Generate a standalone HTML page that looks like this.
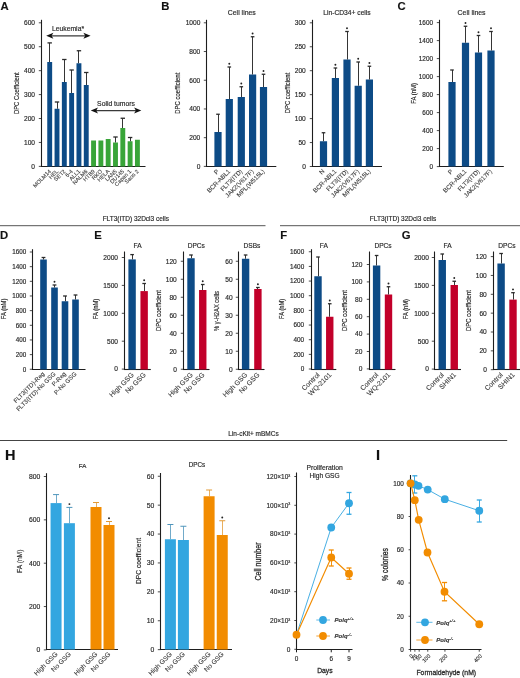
<!DOCTYPE html>
<html><head><meta charset="utf-8"><title>Figure</title>
<style>
html,body{margin:0;padding:0;background:#fff;}
body{width:520px;height:678px;overflow:hidden;}
svg{display:block;will-change:transform;filter:blur(0.3px);font-family:"Liberation Sans",sans-serif;}
text{stroke:#2a2a2a;stroke-width:0.17px;}
text.xl{stroke:#3c3c3c;stroke-width:0.1px;}
text.big{stroke-width:0.3px;}
</style></head>
<body>
<svg width="520" height="678" viewBox="0 0 520 678">
<rect width="520" height="678" fill="#fff"/>
<text x="0.4" y="9.8" font-size="11.3" font-weight="bold" fill="#111">A</text>
<line x1="41.5" y1="19.8" x2="41.5" y2="167.0" stroke="#1e1e1e" stroke-width="1.1"/>
<line x1="40.95" y1="166.5" x2="145.5" y2="166.5" stroke="#1e1e1e" stroke-width="1.1"/>
<line x1="38.8" y1="22.80" x2="41.5" y2="22.80" stroke="#1e1e1e" stroke-width="0.8"/>
<text x="35.00" y="25.16" font-size="6.6" text-anchor="end" fill="#2a2a2a" font-weight="normal" >600</text>
<line x1="38.8" y1="46.73" x2="41.5" y2="46.73" stroke="#1e1e1e" stroke-width="0.8"/>
<text x="35.00" y="49.09" font-size="6.6" text-anchor="end" fill="#2a2a2a" font-weight="normal" >500</text>
<line x1="38.8" y1="70.66" x2="41.5" y2="70.66" stroke="#1e1e1e" stroke-width="0.8"/>
<text x="35.00" y="73.02" font-size="6.6" text-anchor="end" fill="#2a2a2a" font-weight="normal" >400</text>
<line x1="38.8" y1="94.59" x2="41.5" y2="94.59" stroke="#1e1e1e" stroke-width="0.8"/>
<text x="35.00" y="96.95" font-size="6.6" text-anchor="end" fill="#2a2a2a" font-weight="normal" >300</text>
<line x1="38.8" y1="118.52" x2="41.5" y2="118.52" stroke="#1e1e1e" stroke-width="0.8"/>
<text x="35.00" y="120.88" font-size="6.6" text-anchor="end" fill="#2a2a2a" font-weight="normal" >200</text>
<line x1="38.8" y1="142.45" x2="41.5" y2="142.45" stroke="#1e1e1e" stroke-width="0.8"/>
<text x="35.00" y="144.81" font-size="6.6" text-anchor="end" fill="#2a2a2a" font-weight="normal" >100</text>
<line x1="38.8" y1="166.38" x2="41.5" y2="166.38" stroke="#1e1e1e" stroke-width="0.8"/>
<text x="35.00" y="168.74" font-size="6.6" text-anchor="end" fill="#2a2a2a" font-weight="normal" >0</text>
<rect x="47.25" y="62.00" width="4.90" height="104.50" fill="#0d4b86"/>
<line x1="49.50" y1="62.00" x2="49.50" y2="42.90" stroke="#2a2a2a" stroke-width="0.95"/>
<line x1="47.50" y1="42.90" x2="51.90" y2="42.90" stroke="#2a2a2a" stroke-width="1.3"/>
<rect x="54.56" y="108.75" width="4.90" height="57.75" fill="#0d4b86"/>
<line x1="57.50" y1="108.75" x2="57.50" y2="102.00" stroke="#2a2a2a" stroke-width="0.95"/>
<line x1="54.81" y1="102.00" x2="59.21" y2="102.00" stroke="#2a2a2a" stroke-width="1.3"/>
<rect x="61.87" y="82.00" width="4.90" height="84.50" fill="#0d4b86"/>
<line x1="64.50" y1="82.00" x2="64.50" y2="59.50" stroke="#2a2a2a" stroke-width="0.95"/>
<line x1="62.12" y1="59.50" x2="66.52" y2="59.50" stroke="#2a2a2a" stroke-width="1.3"/>
<rect x="69.18" y="93.00" width="4.90" height="73.50" fill="#0d4b86"/>
<line x1="71.50" y1="93.00" x2="71.50" y2="70.00" stroke="#2a2a2a" stroke-width="0.95"/>
<line x1="69.43" y1="70.00" x2="73.83" y2="70.00" stroke="#2a2a2a" stroke-width="1.3"/>
<rect x="76.49" y="63.25" width="4.90" height="103.25" fill="#0d4b86"/>
<line x1="78.50" y1="63.25" x2="78.50" y2="50.75" stroke="#2a2a2a" stroke-width="0.95"/>
<line x1="76.74" y1="50.75" x2="81.14" y2="50.75" stroke="#2a2a2a" stroke-width="1.3"/>
<rect x="83.80" y="85.00" width="4.90" height="81.50" fill="#0d4b86"/>
<line x1="86.50" y1="85.00" x2="86.50" y2="72.50" stroke="#2a2a2a" stroke-width="0.95"/>
<line x1="84.05" y1="72.50" x2="88.45" y2="72.50" stroke="#2a2a2a" stroke-width="1.3"/>
<rect x="91.11" y="140.50" width="4.90" height="26.00" fill="#39a539"/>
<rect x="98.42" y="140.50" width="4.90" height="26.00" fill="#39a539"/>
<rect x="105.73" y="139.00" width="4.90" height="27.50" fill="#39a539"/>
<rect x="113.04" y="142.50" width="4.90" height="24.00" fill="#39a539"/>
<line x1="115.50" y1="142.50" x2="115.50" y2="137.00" stroke="#2a2a2a" stroke-width="0.95"/>
<line x1="113.29" y1="137.00" x2="117.69" y2="137.00" stroke="#2a2a2a" stroke-width="1.3"/>
<rect x="120.35" y="128.00" width="4.90" height="38.50" fill="#39a539"/>
<line x1="122.50" y1="128.00" x2="122.50" y2="118.25" stroke="#2a2a2a" stroke-width="0.95"/>
<line x1="120.60" y1="118.25" x2="125.00" y2="118.25" stroke="#2a2a2a" stroke-width="1.3"/>
<rect x="127.66" y="141.25" width="4.90" height="25.25" fill="#39a539"/>
<line x1="130.50" y1="141.25" x2="130.50" y2="137.50" stroke="#2a2a2a" stroke-width="0.95"/>
<line x1="127.91" y1="137.50" x2="132.31" y2="137.50" stroke="#2a2a2a" stroke-width="1.3"/>
<rect x="134.97" y="139.75" width="4.90" height="26.75" fill="#39a539"/>
<text class="xl" transform="translate(51.40,171.70) rotate(-45)" x="0" y="0" font-size="5.6" text-anchor="end" fill="#3c3c3c">MOLM14</text>
<text class="xl" transform="translate(58.71,171.70) rotate(-45)" x="0" y="0" font-size="5.6" text-anchor="end" fill="#3c3c3c">HEL</text>
<text class="xl" transform="translate(66.02,171.70) rotate(-45)" x="0" y="0" font-size="5.6" text-anchor="end" fill="#3c3c3c">SET2</text>
<text class="xl" transform="translate(73.33,171.70) rotate(-45)" x="0" y="0" font-size="5.6" text-anchor="end" fill="#3c3c3c">6-4</text>
<text class="xl" transform="translate(80.64,171.70) rotate(-45)" x="0" y="0" font-size="5.6" text-anchor="end" fill="#3c3c3c">ALL1</text>
<text class="xl" transform="translate(87.95,171.70) rotate(-45)" x="0" y="0" font-size="5.6" text-anchor="end" fill="#3c3c3c">NALM6</text>
<text class="xl" transform="translate(95.26,171.70) rotate(-45)" x="0" y="0" font-size="5.6" text-anchor="end" fill="#3c3c3c">HTB9</text>
<text class="xl" transform="translate(102.57,171.70) rotate(-45)" x="0" y="0" font-size="5.6" text-anchor="end" fill="#3c3c3c">RKO</text>
<text class="xl" transform="translate(109.88,171.70) rotate(-45)" x="0" y="0" font-size="5.6" text-anchor="end" fill="#3c3c3c">HELA</text>
<text class="xl" transform="translate(117.19,171.70) rotate(-45)" x="0" y="0" font-size="5.6" text-anchor="end" fill="#3c3c3c">LAN5</text>
<text class="xl" transform="translate(124.50,171.70) rotate(-45)" x="0" y="0" font-size="5.6" text-anchor="end" fill="#3c3c3c">DU145</text>
<text class="xl" transform="translate(131.81,171.70) rotate(-45)" x="0" y="0" font-size="5.6" text-anchor="end" fill="#3c3c3c">Capan 1</text>
<text class="xl" transform="translate(139.12,171.70) rotate(-45)" x="0" y="0" font-size="5.6" text-anchor="end" fill="#3c3c3c">Saos 2</text>
<text transform="translate(18.52,93.20) rotate(-90)" x="0" y="0" font-size="7.0" text-anchor="middle" fill="#2a2a2a" textLength="41.8" lengthAdjust="spacingAndGlyphs">DPC Coefficient</text>
<text x="68.00" y="31.30" font-size="6.8" text-anchor="middle" fill="#2a2a2a" font-weight="normal" >Leukemia*</text>
<line x1="51.2" y1="35.8" x2="85.6" y2="35.8" stroke="#3a3a3a" stroke-width="1.15"/>
<path d="M46.2,35.8 L53.400000000000006,32.8 L51.6,35.8 L53.400000000000006,38.8 Z" fill="#111"/>
<path d="M90.6,35.8 L83.39999999999999,32.8 L85.19999999999999,35.8 L83.39999999999999,38.8 Z" fill="#111"/>
<text x="116.00" y="106.00" font-size="6.8" text-anchor="middle" fill="#2a2a2a" font-weight="normal" >Solid tumors</text>
<line x1="95.8" y1="110.6" x2="136.3" y2="110.6" stroke="#3a3a3a" stroke-width="1.15"/>
<path d="M90.8,110.6 L98.0,107.6 L96.2,110.6 L98.0,113.6 Z" fill="#111"/>
<path d="M141.3,110.6 L134.10000000000002,107.6 L135.9,110.6 L134.10000000000002,113.6 Z" fill="#111"/>
<text x="161.3" y="10" font-size="11.3" font-weight="bold" fill="#111">B</text>
<line x1="206.5" y1="19.8" x2="206.5" y2="167.0" stroke="#1e1e1e" stroke-width="1.1"/>
<line x1="205.95" y1="166.5" x2="276.3" y2="166.5" stroke="#1e1e1e" stroke-width="1.1"/>
<line x1="203.8" y1="22.80" x2="206.5" y2="22.80" stroke="#1e1e1e" stroke-width="0.8"/>
<text x="200.30" y="25.16" font-size="6.6" text-anchor="end" fill="#2a2a2a" font-weight="normal" >1000</text>
<line x1="203.8" y1="51.52" x2="206.5" y2="51.52" stroke="#1e1e1e" stroke-width="0.8"/>
<text x="200.30" y="53.88" font-size="6.6" text-anchor="end" fill="#2a2a2a" font-weight="normal" >800</text>
<line x1="203.8" y1="80.24" x2="206.5" y2="80.24" stroke="#1e1e1e" stroke-width="0.8"/>
<text x="200.30" y="82.60" font-size="6.6" text-anchor="end" fill="#2a2a2a" font-weight="normal" >600</text>
<line x1="203.8" y1="108.96" x2="206.5" y2="108.96" stroke="#1e1e1e" stroke-width="0.8"/>
<text x="200.30" y="111.32" font-size="6.6" text-anchor="end" fill="#2a2a2a" font-weight="normal" >400</text>
<line x1="203.8" y1="137.68" x2="206.5" y2="137.68" stroke="#1e1e1e" stroke-width="0.8"/>
<text x="200.30" y="140.04" font-size="6.6" text-anchor="end" fill="#2a2a2a" font-weight="normal" >200</text>
<line x1="203.8" y1="166.40" x2="206.5" y2="166.40" stroke="#1e1e1e" stroke-width="0.8"/>
<text x="200.30" y="168.76" font-size="6.6" text-anchor="end" fill="#2a2a2a" font-weight="normal" >0</text>
<rect x="214.40" y="132.00" width="7.20" height="34.50" fill="#0d4b86"/>
<line x1="218.50" y1="132.00" x2="218.50" y2="114.25" stroke="#2a2a2a" stroke-width="0.95"/>
<line x1="216.20" y1="114.25" x2="219.80" y2="114.25" stroke="#2a2a2a" stroke-width="1.3"/>
<rect x="225.70" y="99.00" width="7.20" height="67.50" fill="#0d4b86"/>
<line x1="229.50" y1="99.00" x2="229.50" y2="67.00" stroke="#2a2a2a" stroke-width="0.95"/>
<line x1="227.50" y1="67.00" x2="231.10" y2="67.00" stroke="#2a2a2a" stroke-width="1.3"/>
<circle cx="229.30" cy="63.70" r="0.95" fill="#222"/>
<rect x="237.70" y="97.00" width="7.20" height="69.50" fill="#0d4b86"/>
<line x1="241.50" y1="97.00" x2="241.50" y2="86.75" stroke="#2a2a2a" stroke-width="0.95"/>
<line x1="239.50" y1="86.75" x2="243.10" y2="86.75" stroke="#2a2a2a" stroke-width="1.3"/>
<circle cx="241.30" cy="83.45" r="0.95" fill="#222"/>
<rect x="249.00" y="74.50" width="7.20" height="92.00" fill="#0d4b86"/>
<line x1="252.50" y1="74.50" x2="252.50" y2="36.75" stroke="#2a2a2a" stroke-width="0.95"/>
<line x1="250.80" y1="36.75" x2="254.40" y2="36.75" stroke="#2a2a2a" stroke-width="1.3"/>
<circle cx="252.60" cy="33.45" r="0.95" fill="#222"/>
<rect x="259.90" y="87.00" width="7.20" height="79.50" fill="#0d4b86"/>
<line x1="263.50" y1="87.00" x2="263.50" y2="74.25" stroke="#2a2a2a" stroke-width="0.95"/>
<line x1="261.70" y1="74.25" x2="265.30" y2="74.25" stroke="#2a2a2a" stroke-width="1.3"/>
<circle cx="263.50" cy="70.95" r="0.95" fill="#222"/>
<text class="xl" transform="translate(219.50,171.70) rotate(-45)" x="0" y="0" font-size="6.2" text-anchor="end" fill="#3c3c3c">P</text>
<text class="xl" transform="translate(230.80,171.70) rotate(-45)" x="0" y="0" font-size="6.2" text-anchor="end" fill="#3c3c3c">BCR-ABL1</text>
<text class="xl" transform="translate(242.80,171.70) rotate(-45)" x="0" y="0" font-size="6.2" text-anchor="end" fill="#3c3c3c">FLT3(ITD)</text>
<text class="xl" transform="translate(254.10,171.70) rotate(-45)" x="0" y="0" font-size="6.2" text-anchor="end" fill="#3c3c3c">JAK2(V617F)</text>
<text class="xl" transform="translate(265.00,171.70) rotate(-45)" x="0" y="0" font-size="6.2" text-anchor="end" fill="#3c3c3c">MPL(W515L)</text>
<text transform="translate(180.12,93.20) rotate(-90)" x="0" y="0" font-size="7.0" text-anchor="middle" fill="#2a2a2a" textLength="41" lengthAdjust="spacingAndGlyphs">DPC coefficient</text>
<text x="241.80" y="15.40" font-size="6.9" text-anchor="middle" fill="#2a2a2a" font-weight="normal" >Cell lines</text>
<line x1="312.5" y1="19.8" x2="312.5" y2="167.0" stroke="#1e1e1e" stroke-width="1.1"/>
<line x1="311.95" y1="166.5" x2="382" y2="166.5" stroke="#1e1e1e" stroke-width="1.1"/>
<line x1="309.8" y1="22.80" x2="312.5" y2="22.80" stroke="#1e1e1e" stroke-width="0.8"/>
<text x="305.80" y="25.16" font-size="6.6" text-anchor="end" fill="#2a2a2a" font-weight="normal" >300</text>
<line x1="309.8" y1="46.75" x2="312.5" y2="46.75" stroke="#1e1e1e" stroke-width="0.8"/>
<text x="305.80" y="49.11" font-size="6.6" text-anchor="end" fill="#2a2a2a" font-weight="normal" >250</text>
<line x1="309.8" y1="70.70" x2="312.5" y2="70.70" stroke="#1e1e1e" stroke-width="0.8"/>
<text x="305.80" y="73.06" font-size="6.6" text-anchor="end" fill="#2a2a2a" font-weight="normal" >200</text>
<line x1="309.8" y1="94.65" x2="312.5" y2="94.65" stroke="#1e1e1e" stroke-width="0.8"/>
<text x="305.80" y="97.01" font-size="6.6" text-anchor="end" fill="#2a2a2a" font-weight="normal" >150</text>
<line x1="309.8" y1="118.60" x2="312.5" y2="118.60" stroke="#1e1e1e" stroke-width="0.8"/>
<text x="305.80" y="120.96" font-size="6.6" text-anchor="end" fill="#2a2a2a" font-weight="normal" >100</text>
<line x1="309.8" y1="142.55" x2="312.5" y2="142.55" stroke="#1e1e1e" stroke-width="0.8"/>
<text x="305.80" y="144.91" font-size="6.6" text-anchor="end" fill="#2a2a2a" font-weight="normal" >50</text>
<line x1="309.8" y1="166.50" x2="312.5" y2="166.50" stroke="#1e1e1e" stroke-width="0.8"/>
<text x="305.80" y="168.86" font-size="6.6" text-anchor="end" fill="#2a2a2a" font-weight="normal" >0</text>
<rect x="319.90" y="141.25" width="7.20" height="25.25" fill="#0d4b86"/>
<line x1="323.50" y1="141.25" x2="323.50" y2="132.75" stroke="#2a2a2a" stroke-width="0.95"/>
<line x1="321.70" y1="132.75" x2="325.30" y2="132.75" stroke="#2a2a2a" stroke-width="1.3"/>
<rect x="331.80" y="78.00" width="7.20" height="88.50" fill="#0d4b86"/>
<line x1="335.50" y1="78.00" x2="335.50" y2="68.00" stroke="#2a2a2a" stroke-width="0.95"/>
<line x1="333.60" y1="68.00" x2="337.20" y2="68.00" stroke="#2a2a2a" stroke-width="1.3"/>
<circle cx="335.40" cy="64.70" r="0.95" fill="#222"/>
<rect x="343.40" y="59.50" width="7.20" height="107.00" fill="#0d4b86"/>
<line x1="347.50" y1="59.50" x2="347.50" y2="31.50" stroke="#2a2a2a" stroke-width="0.95"/>
<line x1="345.20" y1="31.50" x2="348.80" y2="31.50" stroke="#2a2a2a" stroke-width="1.3"/>
<circle cx="347.00" cy="28.20" r="0.95" fill="#222"/>
<rect x="354.60" y="85.75" width="7.20" height="80.75" fill="#0d4b86"/>
<line x1="358.50" y1="85.75" x2="358.50" y2="62.00" stroke="#2a2a2a" stroke-width="0.95"/>
<line x1="356.40" y1="62.00" x2="360.00" y2="62.00" stroke="#2a2a2a" stroke-width="1.3"/>
<circle cx="358.20" cy="58.70" r="0.95" fill="#222"/>
<rect x="365.80" y="79.50" width="7.20" height="87.00" fill="#0d4b86"/>
<line x1="369.50" y1="79.50" x2="369.50" y2="66.25" stroke="#2a2a2a" stroke-width="0.95"/>
<line x1="367.60" y1="66.25" x2="371.20" y2="66.25" stroke="#2a2a2a" stroke-width="1.3"/>
<circle cx="369.40" cy="62.95" r="0.95" fill="#222"/>
<text class="xl" transform="translate(325.00,171.70) rotate(-45)" x="0" y="0" font-size="6.2" text-anchor="end" fill="#3c3c3c">N</text>
<text class="xl" transform="translate(336.90,171.70) rotate(-45)" x="0" y="0" font-size="6.2" text-anchor="end" fill="#3c3c3c">BCR-ABL1</text>
<text class="xl" transform="translate(348.50,171.70) rotate(-45)" x="0" y="0" font-size="6.2" text-anchor="end" fill="#3c3c3c">FLT3(ITD)</text>
<text class="xl" transform="translate(359.70,171.70) rotate(-45)" x="0" y="0" font-size="6.2" text-anchor="end" fill="#3c3c3c">JAK2(V617F)</text>
<text class="xl" transform="translate(370.90,171.70) rotate(-45)" x="0" y="0" font-size="6.2" text-anchor="end" fill="#3c3c3c">MPL(W515L)</text>
<text transform="translate(290.02,93.00) rotate(-90)" x="0" y="0" font-size="7.0" text-anchor="middle" fill="#2a2a2a" textLength="40.6" lengthAdjust="spacingAndGlyphs">DPC coefficient</text>
<text x="347.00" y="15.20" font-size="6.7" text-anchor="middle" fill="#2a2a2a" font-weight="normal" >Lin-CD34+ cells</text>
<text x="397.5" y="10" font-size="11.3" font-weight="bold" fill="#111">C</text>
<line x1="439.5" y1="19.8" x2="439.5" y2="167.0" stroke="#1e1e1e" stroke-width="1.1"/>
<line x1="438.95" y1="166.5" x2="503.8" y2="166.5" stroke="#1e1e1e" stroke-width="1.1"/>
<line x1="436.8" y1="22.60" x2="439.5" y2="22.60" stroke="#1e1e1e" stroke-width="0.8"/>
<text x="433.00" y="24.89" font-size="6.4" text-anchor="end" fill="#2a2a2a" font-weight="normal" >1600</text>
<line x1="436.8" y1="40.60" x2="439.5" y2="40.60" stroke="#1e1e1e" stroke-width="0.8"/>
<text x="433.00" y="42.89" font-size="6.4" text-anchor="end" fill="#2a2a2a" font-weight="normal" >1400</text>
<line x1="436.8" y1="58.60" x2="439.5" y2="58.60" stroke="#1e1e1e" stroke-width="0.8"/>
<text x="433.00" y="60.89" font-size="6.4" text-anchor="end" fill="#2a2a2a" font-weight="normal" >1200</text>
<line x1="436.8" y1="76.60" x2="439.5" y2="76.60" stroke="#1e1e1e" stroke-width="0.8"/>
<text x="433.00" y="78.89" font-size="6.4" text-anchor="end" fill="#2a2a2a" font-weight="normal" >1000</text>
<line x1="436.8" y1="94.60" x2="439.5" y2="94.60" stroke="#1e1e1e" stroke-width="0.8"/>
<text x="433.00" y="96.89" font-size="6.4" text-anchor="end" fill="#2a2a2a" font-weight="normal" >800</text>
<line x1="436.8" y1="112.60" x2="439.5" y2="112.60" stroke="#1e1e1e" stroke-width="0.8"/>
<text x="433.00" y="114.89" font-size="6.4" text-anchor="end" fill="#2a2a2a" font-weight="normal" >600</text>
<line x1="436.8" y1="130.60" x2="439.5" y2="130.60" stroke="#1e1e1e" stroke-width="0.8"/>
<text x="433.00" y="132.89" font-size="6.4" text-anchor="end" fill="#2a2a2a" font-weight="normal" >400</text>
<line x1="436.8" y1="148.60" x2="439.5" y2="148.60" stroke="#1e1e1e" stroke-width="0.8"/>
<text x="433.00" y="150.89" font-size="6.4" text-anchor="end" fill="#2a2a2a" font-weight="normal" >200</text>
<line x1="436.8" y1="166.60" x2="439.5" y2="166.60" stroke="#1e1e1e" stroke-width="0.8"/>
<text x="433.00" y="168.89" font-size="6.4" text-anchor="end" fill="#2a2a2a" font-weight="normal" >0</text>
<rect x="448.40" y="82.00" width="7.20" height="84.50" fill="#0d4b86"/>
<line x1="452.50" y1="82.00" x2="452.50" y2="70.00" stroke="#2a2a2a" stroke-width="0.95"/>
<line x1="450.20" y1="70.00" x2="453.80" y2="70.00" stroke="#2a2a2a" stroke-width="1.3"/>
<rect x="461.90" y="42.75" width="7.20" height="123.75" fill="#0d4b86"/>
<line x1="465.50" y1="42.75" x2="465.50" y2="26.25" stroke="#2a2a2a" stroke-width="0.95"/>
<line x1="463.70" y1="26.25" x2="467.30" y2="26.25" stroke="#2a2a2a" stroke-width="1.3"/>
<circle cx="465.50" cy="22.95" r="0.95" fill="#222"/>
<rect x="474.90" y="52.50" width="7.20" height="114.00" fill="#0d4b86"/>
<line x1="478.50" y1="52.50" x2="478.50" y2="35.50" stroke="#2a2a2a" stroke-width="0.95"/>
<line x1="476.70" y1="35.50" x2="480.30" y2="35.50" stroke="#2a2a2a" stroke-width="1.3"/>
<circle cx="478.50" cy="32.20" r="0.95" fill="#222"/>
<rect x="487.40" y="50.50" width="7.20" height="116.00" fill="#0d4b86"/>
<line x1="491.50" y1="50.50" x2="491.50" y2="31.50" stroke="#2a2a2a" stroke-width="0.95"/>
<line x1="489.20" y1="31.50" x2="492.80" y2="31.50" stroke="#2a2a2a" stroke-width="1.3"/>
<circle cx="491.00" cy="28.20" r="0.95" fill="#222"/>
<text class="xl" transform="translate(453.50,171.70) rotate(-45)" x="0" y="0" font-size="6.2" text-anchor="end" fill="#3c3c3c">P</text>
<text class="xl" transform="translate(467.00,171.70) rotate(-45)" x="0" y="0" font-size="6.2" text-anchor="end" fill="#3c3c3c">BCR-ABL1</text>
<text class="xl" transform="translate(480.00,171.70) rotate(-45)" x="0" y="0" font-size="6.2" text-anchor="end" fill="#3c3c3c">FLT3(ITD)</text>
<text class="xl" transform="translate(492.50,171.70) rotate(-45)" x="0" y="0" font-size="6.2" text-anchor="end" fill="#3c3c3c">JAK2(V617F)</text>
<text transform="translate(416.42,93.50) rotate(-90)" x="0" y="0" font-size="7.0" text-anchor="middle" fill="#2a2a2a" textLength="20.7" lengthAdjust="spacingAndGlyphs">FA (nM)</text>
<text x="471.60" y="15.40" font-size="6.9" text-anchor="middle" fill="#2a2a2a" font-weight="normal" >Cell lines</text>
<line x1="0" y1="225.7" x2="265.5" y2="225.7" stroke="#555" stroke-width="1"/>
<line x1="280" y1="225.7" x2="520" y2="225.7" stroke="#555" stroke-width="1"/>
<text x="135.80" y="220.90" font-size="6.5" text-anchor="middle" fill="#2a2a2a" font-weight="normal" >FLT3(ITD) 32Dcl3 cells</text>
<text x="403.00" y="220.90" font-size="6.5" text-anchor="middle" fill="#2a2a2a" font-weight="normal" >FLT3(ITD) 32Dcl3 cells</text>
<line x1="0" y1="440.5" x2="507.2" y2="440.5" stroke="#444" stroke-width="1"/>
<text x="253.50" y="436.00" font-size="6.5" text-anchor="middle" fill="#2a2a2a" font-weight="normal" >Lin-cKit+ mBMCs</text>
<text x="0" y="239.2" font-size="11.3" font-weight="bold" fill="#111">D</text>
<line x1="32.5" y1="249.2" x2="32.5" y2="370.0" stroke="#1e1e1e" stroke-width="1.1"/>
<line x1="31.95" y1="369.5" x2="85.5" y2="369.5" stroke="#1e1e1e" stroke-width="1.1"/>
<line x1="29.8" y1="252.00" x2="32.5" y2="252.00" stroke="#1e1e1e" stroke-width="0.8"/>
<text x="26.20" y="254.26" font-size="6.3" text-anchor="end" fill="#2a2a2a" font-weight="normal" >1600</text>
<line x1="29.8" y1="266.66" x2="32.5" y2="266.66" stroke="#1e1e1e" stroke-width="0.8"/>
<text x="26.20" y="268.92" font-size="6.3" text-anchor="end" fill="#2a2a2a" font-weight="normal" >1400</text>
<line x1="29.8" y1="281.32" x2="32.5" y2="281.32" stroke="#1e1e1e" stroke-width="0.8"/>
<text x="26.20" y="283.58" font-size="6.3" text-anchor="end" fill="#2a2a2a" font-weight="normal" >1200</text>
<line x1="29.8" y1="295.98" x2="32.5" y2="295.98" stroke="#1e1e1e" stroke-width="0.8"/>
<text x="26.20" y="298.24" font-size="6.3" text-anchor="end" fill="#2a2a2a" font-weight="normal" >1000</text>
<line x1="29.8" y1="310.64" x2="32.5" y2="310.64" stroke="#1e1e1e" stroke-width="0.8"/>
<text x="26.20" y="312.90" font-size="6.3" text-anchor="end" fill="#2a2a2a" font-weight="normal" >800</text>
<line x1="29.8" y1="325.30" x2="32.5" y2="325.30" stroke="#1e1e1e" stroke-width="0.8"/>
<text x="26.20" y="327.56" font-size="6.3" text-anchor="end" fill="#2a2a2a" font-weight="normal" >600</text>
<line x1="29.8" y1="339.96" x2="32.5" y2="339.96" stroke="#1e1e1e" stroke-width="0.8"/>
<text x="26.20" y="342.22" font-size="6.3" text-anchor="end" fill="#2a2a2a" font-weight="normal" >400</text>
<line x1="29.8" y1="354.62" x2="32.5" y2="354.62" stroke="#1e1e1e" stroke-width="0.8"/>
<text x="26.20" y="356.88" font-size="6.3" text-anchor="end" fill="#2a2a2a" font-weight="normal" >200</text>
<line x1="29.8" y1="369.28" x2="32.5" y2="369.28" stroke="#1e1e1e" stroke-width="0.8"/>
<text x="26.20" y="371.54" font-size="6.3" text-anchor="end" fill="#2a2a2a" font-weight="normal" >0</text>
<rect x="40.20" y="259.50" width="6.60" height="110.00" fill="#0d4b86"/>
<line x1="43.50" y1="259.50" x2="43.50" y2="257.50" stroke="#2a2a2a" stroke-width="0.95"/>
<line x1="41.60" y1="257.50" x2="45.40" y2="257.50" stroke="#2a2a2a" stroke-width="1.3"/>
<rect x="51.20" y="287.50" width="6.60" height="82.00" fill="#0d4b86"/>
<line x1="54.50" y1="287.50" x2="54.50" y2="285.00" stroke="#2a2a2a" stroke-width="0.95"/>
<line x1="52.60" y1="285.00" x2="56.40" y2="285.00" stroke="#2a2a2a" stroke-width="1.3"/>
<circle cx="54.50" cy="281.70" r="0.95" fill="#222"/>
<rect x="61.70" y="301.25" width="6.60" height="68.25" fill="#0d4b86"/>
<line x1="65.50" y1="301.25" x2="65.50" y2="296.00" stroke="#2a2a2a" stroke-width="0.95"/>
<line x1="63.10" y1="296.00" x2="66.90" y2="296.00" stroke="#2a2a2a" stroke-width="1.3"/>
<rect x="72.20" y="299.50" width="6.60" height="70.00" fill="#0d4b86"/>
<line x1="75.50" y1="299.50" x2="75.50" y2="295.00" stroke="#2a2a2a" stroke-width="0.95"/>
<line x1="73.60" y1="295.00" x2="77.40" y2="295.00" stroke="#2a2a2a" stroke-width="1.3"/>
<text class="xl" transform="translate(45.00,374.30) rotate(-45)" x="0" y="0" font-size="6.1" text-anchor="end" fill="#3c3c3c">FLT3(ITD)-Reg</text>
<text class="xl" transform="translate(56.00,374.30) rotate(-45)" x="0" y="0" font-size="6.1" text-anchor="end" fill="#3c3c3c">FLT3(ITD)-No GSG</text>
<text class="xl" transform="translate(66.50,374.30) rotate(-45)" x="0" y="0" font-size="6.1" text-anchor="end" fill="#3c3c3c">P-Reg</text>
<text class="xl" transform="translate(77.00,374.30) rotate(-45)" x="0" y="0" font-size="6.1" text-anchor="end" fill="#3c3c3c">P-No GSG</text>
<text transform="translate(5.92,308.90) rotate(-90)" x="0" y="0" font-size="7.0" text-anchor="middle" fill="#2a2a2a" textLength="20.6" lengthAdjust="spacingAndGlyphs">FA (nM)</text>
<text x="94.2" y="239.2" font-size="11.3" font-weight="bold" fill="#111">E</text>
<line x1="124.5" y1="251.5" x2="124.5" y2="370.0" stroke="#1e1e1e" stroke-width="1.1"/>
<line x1="123.95" y1="369.5" x2="150.8" y2="369.5" stroke="#1e1e1e" stroke-width="1.1"/>
<line x1="121.8" y1="257.50" x2="124.5" y2="257.50" stroke="#1e1e1e" stroke-width="0.8"/>
<text x="118.00" y="259.86" font-size="6.6" text-anchor="end" fill="#2a2a2a" font-weight="normal" >2000</text>
<line x1="121.8" y1="285.40" x2="124.5" y2="285.40" stroke="#1e1e1e" stroke-width="0.8"/>
<text x="118.00" y="287.76" font-size="6.6" text-anchor="end" fill="#2a2a2a" font-weight="normal" >1500</text>
<line x1="121.8" y1="313.30" x2="124.5" y2="313.30" stroke="#1e1e1e" stroke-width="0.8"/>
<text x="118.00" y="315.66" font-size="6.6" text-anchor="end" fill="#2a2a2a" font-weight="normal" >1000</text>
<line x1="121.8" y1="341.20" x2="124.5" y2="341.20" stroke="#1e1e1e" stroke-width="0.8"/>
<text x="118.00" y="343.56" font-size="6.6" text-anchor="end" fill="#2a2a2a" font-weight="normal" >500</text>
<line x1="121.8" y1="369.10" x2="124.5" y2="369.10" stroke="#1e1e1e" stroke-width="0.8"/>
<text x="118.00" y="371.46" font-size="6.6" text-anchor="end" fill="#2a2a2a" font-weight="normal" >0</text>
<rect x="128.40" y="259.40" width="7.40" height="110.10" fill="#0d4b86"/>
<line x1="132.50" y1="259.40" x2="132.50" y2="254.60" stroke="#2a2a2a" stroke-width="0.95"/>
<line x1="130.30" y1="254.60" x2="133.90" y2="254.60" stroke="#2a2a2a" stroke-width="1.3"/>
<rect x="140.45" y="291.10" width="7.40" height="78.40" fill="#c2002a"/>
<line x1="144.50" y1="291.10" x2="144.50" y2="283.50" stroke="#2a2a2a" stroke-width="0.95"/>
<line x1="142.35" y1="283.50" x2="145.95" y2="283.50" stroke="#2a2a2a" stroke-width="1.3"/>
<circle cx="144.15" cy="280.20" r="0.95" fill="#222"/>
<text class="xl" transform="translate(134.30,375.30) rotate(-45)" x="0" y="0" font-size="6.9" text-anchor="end" fill="#3c3c3c">High GSG</text>
<text class="xl" transform="translate(146.35,375.30) rotate(-45)" x="0" y="0" font-size="6.9" text-anchor="end" fill="#3c3c3c">No GSG</text>
<text transform="translate(98.12,309.00) rotate(-90)" x="0" y="0" font-size="7.0" text-anchor="middle" fill="#2a2a2a" textLength="20.6" lengthAdjust="spacingAndGlyphs">FA (nM)</text>
<text x="137.50" y="247.80" font-size="6.6" text-anchor="middle" fill="#2a2a2a" font-weight="normal" >FA</text>
<line x1="183.5" y1="251.5" x2="183.5" y2="370.0" stroke="#1e1e1e" stroke-width="1.1"/>
<line x1="182.95" y1="369.5" x2="209.5" y2="369.5" stroke="#1e1e1e" stroke-width="1.1"/>
<line x1="180.8" y1="261.25" x2="183.5" y2="261.25" stroke="#1e1e1e" stroke-width="0.8"/>
<text x="176.80" y="263.61" font-size="6.6" text-anchor="end" fill="#2a2a2a" font-weight="normal" >120</text>
<line x1="180.8" y1="279.25" x2="183.5" y2="279.25" stroke="#1e1e1e" stroke-width="0.8"/>
<text x="176.80" y="281.61" font-size="6.6" text-anchor="end" fill="#2a2a2a" font-weight="normal" >100</text>
<line x1="180.8" y1="297.25" x2="183.5" y2="297.25" stroke="#1e1e1e" stroke-width="0.8"/>
<text x="176.80" y="299.61" font-size="6.6" text-anchor="end" fill="#2a2a2a" font-weight="normal" >80</text>
<line x1="180.8" y1="315.25" x2="183.5" y2="315.25" stroke="#1e1e1e" stroke-width="0.8"/>
<text x="176.80" y="317.61" font-size="6.6" text-anchor="end" fill="#2a2a2a" font-weight="normal" >60</text>
<line x1="180.8" y1="333.25" x2="183.5" y2="333.25" stroke="#1e1e1e" stroke-width="0.8"/>
<text x="176.80" y="335.61" font-size="6.6" text-anchor="end" fill="#2a2a2a" font-weight="normal" >40</text>
<line x1="180.8" y1="351.25" x2="183.5" y2="351.25" stroke="#1e1e1e" stroke-width="0.8"/>
<text x="176.80" y="353.61" font-size="6.6" text-anchor="end" fill="#2a2a2a" font-weight="normal" >20</text>
<line x1="180.8" y1="369.25" x2="183.5" y2="369.25" stroke="#1e1e1e" stroke-width="0.8"/>
<text x="176.80" y="371.61" font-size="6.6" text-anchor="end" fill="#2a2a2a" font-weight="normal" >0</text>
<rect x="187.30" y="258.25" width="7.40" height="111.25" fill="#0d4b86"/>
<line x1="191.50" y1="258.25" x2="191.50" y2="255.00" stroke="#2a2a2a" stroke-width="0.95"/>
<line x1="189.20" y1="255.00" x2="192.80" y2="255.00" stroke="#2a2a2a" stroke-width="1.3"/>
<rect x="199.05" y="290.00" width="7.40" height="79.50" fill="#c2002a"/>
<line x1="202.50" y1="290.00" x2="202.50" y2="284.50" stroke="#2a2a2a" stroke-width="0.95"/>
<line x1="200.95" y1="284.50" x2="204.55" y2="284.50" stroke="#2a2a2a" stroke-width="1.3"/>
<circle cx="202.75" cy="281.20" r="0.95" fill="#222"/>
<text class="xl" transform="translate(193.20,375.30) rotate(-45)" x="0" y="0" font-size="6.9" text-anchor="end" fill="#3c3c3c">High GSG</text>
<text class="xl" transform="translate(204.95,375.30) rotate(-45)" x="0" y="0" font-size="6.9" text-anchor="end" fill="#3c3c3c">No GSG</text>
<text transform="translate(161.02,310.60) rotate(-90)" x="0" y="0" font-size="7.0" text-anchor="middle" fill="#2a2a2a" textLength="41" lengthAdjust="spacingAndGlyphs">DPC coefficient</text>
<text x="196.30" y="247.80" font-size="6.6" text-anchor="middle" fill="#2a2a2a" font-weight="normal" >DPCs</text>
<line x1="238.5" y1="251.5" x2="238.5" y2="370.0" stroke="#1e1e1e" stroke-width="1.1"/>
<line x1="237.95" y1="369.5" x2="264.5" y2="369.5" stroke="#1e1e1e" stroke-width="1.1"/>
<line x1="235.8" y1="261.25" x2="238.5" y2="261.25" stroke="#1e1e1e" stroke-width="0.8"/>
<text x="232.60" y="263.61" font-size="6.6" text-anchor="end" fill="#2a2a2a" font-weight="normal" >60</text>
<line x1="235.8" y1="279.25" x2="238.5" y2="279.25" stroke="#1e1e1e" stroke-width="0.8"/>
<text x="232.60" y="281.61" font-size="6.6" text-anchor="end" fill="#2a2a2a" font-weight="normal" >50</text>
<line x1="235.8" y1="297.25" x2="238.5" y2="297.25" stroke="#1e1e1e" stroke-width="0.8"/>
<text x="232.60" y="299.61" font-size="6.6" text-anchor="end" fill="#2a2a2a" font-weight="normal" >40</text>
<line x1="235.8" y1="315.25" x2="238.5" y2="315.25" stroke="#1e1e1e" stroke-width="0.8"/>
<text x="232.60" y="317.61" font-size="6.6" text-anchor="end" fill="#2a2a2a" font-weight="normal" >30</text>
<line x1="235.8" y1="333.25" x2="238.5" y2="333.25" stroke="#1e1e1e" stroke-width="0.8"/>
<text x="232.60" y="335.61" font-size="6.6" text-anchor="end" fill="#2a2a2a" font-weight="normal" >20</text>
<line x1="235.8" y1="351.25" x2="238.5" y2="351.25" stroke="#1e1e1e" stroke-width="0.8"/>
<text x="232.60" y="353.61" font-size="6.6" text-anchor="end" fill="#2a2a2a" font-weight="normal" >10</text>
<line x1="235.8" y1="369.25" x2="238.5" y2="369.25" stroke="#1e1e1e" stroke-width="0.8"/>
<text x="232.60" y="371.61" font-size="6.6" text-anchor="end" fill="#2a2a2a" font-weight="normal" >0</text>
<rect x="241.90" y="258.75" width="7.40" height="110.75" fill="#0d4b86"/>
<line x1="245.50" y1="258.75" x2="245.50" y2="255.00" stroke="#2a2a2a" stroke-width="0.95"/>
<line x1="243.80" y1="255.00" x2="247.40" y2="255.00" stroke="#2a2a2a" stroke-width="1.3"/>
<rect x="254.20" y="289.00" width="7.40" height="80.50" fill="#c2002a"/>
<line x1="257.50" y1="289.00" x2="257.50" y2="287.50" stroke="#2a2a2a" stroke-width="0.95"/>
<line x1="256.10" y1="287.50" x2="259.70" y2="287.50" stroke="#2a2a2a" stroke-width="1.3"/>
<circle cx="257.90" cy="284.20" r="0.95" fill="#222"/>
<text class="xl" transform="translate(247.80,375.30) rotate(-45)" x="0" y="0" font-size="6.9" text-anchor="end" fill="#3c3c3c">High GSG</text>
<text class="xl" transform="translate(260.10,375.30) rotate(-45)" x="0" y="0" font-size="6.9" text-anchor="end" fill="#3c3c3c">No GSG</text>
<text transform="translate(218.62,311.00) rotate(-90)" x="0" y="0" font-size="7.0" text-anchor="middle" fill="#2a2a2a" textLength="39.8" lengthAdjust="spacingAndGlyphs">% &#947;-H2AX cells</text>
<text x="252.00" y="247.80" font-size="6.6" text-anchor="middle" fill="#2a2a2a" font-weight="normal" >DSBs</text>
<text x="280.2" y="239.2" font-size="11.3" font-weight="bold" fill="#111">F</text>
<line x1="311.5" y1="249.2" x2="311.5" y2="370.0" stroke="#1e1e1e" stroke-width="1.1"/>
<line x1="310.95" y1="369.5" x2="336.3" y2="369.5" stroke="#1e1e1e" stroke-width="1.1"/>
<line x1="308.8" y1="251.75" x2="311.5" y2="251.75" stroke="#1e1e1e" stroke-width="0.8"/>
<text x="304.20" y="254.04" font-size="6.4" text-anchor="end" fill="#2a2a2a" font-weight="normal" >1600</text>
<line x1="308.8" y1="266.41" x2="311.5" y2="266.41" stroke="#1e1e1e" stroke-width="0.8"/>
<text x="304.20" y="268.70" font-size="6.4" text-anchor="end" fill="#2a2a2a" font-weight="normal" >1400</text>
<line x1="308.8" y1="281.07" x2="311.5" y2="281.07" stroke="#1e1e1e" stroke-width="0.8"/>
<text x="304.20" y="283.36" font-size="6.4" text-anchor="end" fill="#2a2a2a" font-weight="normal" >1200</text>
<line x1="308.8" y1="295.73" x2="311.5" y2="295.73" stroke="#1e1e1e" stroke-width="0.8"/>
<text x="304.20" y="298.02" font-size="6.4" text-anchor="end" fill="#2a2a2a" font-weight="normal" >1000</text>
<line x1="308.8" y1="310.39" x2="311.5" y2="310.39" stroke="#1e1e1e" stroke-width="0.8"/>
<text x="304.20" y="312.68" font-size="6.4" text-anchor="end" fill="#2a2a2a" font-weight="normal" >800</text>
<line x1="308.8" y1="325.05" x2="311.5" y2="325.05" stroke="#1e1e1e" stroke-width="0.8"/>
<text x="304.20" y="327.34" font-size="6.4" text-anchor="end" fill="#2a2a2a" font-weight="normal" >600</text>
<line x1="308.8" y1="339.71" x2="311.5" y2="339.71" stroke="#1e1e1e" stroke-width="0.8"/>
<text x="304.20" y="342.00" font-size="6.4" text-anchor="end" fill="#2a2a2a" font-weight="normal" >400</text>
<line x1="308.8" y1="354.37" x2="311.5" y2="354.37" stroke="#1e1e1e" stroke-width="0.8"/>
<text x="304.20" y="356.66" font-size="6.4" text-anchor="end" fill="#2a2a2a" font-weight="normal" >200</text>
<line x1="308.8" y1="369.03" x2="311.5" y2="369.03" stroke="#1e1e1e" stroke-width="0.8"/>
<text x="304.20" y="371.32" font-size="6.4" text-anchor="end" fill="#2a2a2a" font-weight="normal" >0</text>
<rect x="314.30" y="276.25" width="7.40" height="93.25" fill="#0d4b86"/>
<line x1="318.50" y1="276.25" x2="318.50" y2="257.00" stroke="#2a2a2a" stroke-width="0.95"/>
<line x1="316.20" y1="257.00" x2="319.80" y2="257.00" stroke="#2a2a2a" stroke-width="1.3"/>
<rect x="326.05" y="316.75" width="7.40" height="52.75" fill="#c2002a"/>
<line x1="329.50" y1="316.75" x2="329.50" y2="303.75" stroke="#2a2a2a" stroke-width="0.95"/>
<line x1="327.95" y1="303.75" x2="331.55" y2="303.75" stroke="#2a2a2a" stroke-width="1.3"/>
<circle cx="329.75" cy="300.45" r="0.95" fill="#222"/>
<text class="xl" transform="translate(320.20,375.30) rotate(-45)" x="0" y="0" font-size="6.9" text-anchor="end" fill="#3c3c3c">Control</text>
<text class="xl" transform="translate(331.95,375.30) rotate(-45)" x="0" y="0" font-size="6.9" text-anchor="end" fill="#3c3c3c">WQ-2101</text>
<text transform="translate(283.72,308.80) rotate(-90)" x="0" y="0" font-size="7.0" text-anchor="middle" fill="#2a2a2a" textLength="20.2" lengthAdjust="spacingAndGlyphs">FA (nM)</text>
<text x="323.80" y="247.80" font-size="6.6" text-anchor="middle" fill="#2a2a2a" font-weight="normal" >FA</text>
<line x1="369.5" y1="251.5" x2="369.5" y2="370.0" stroke="#1e1e1e" stroke-width="1.1"/>
<line x1="368.95" y1="369.5" x2="395.5" y2="369.5" stroke="#1e1e1e" stroke-width="1.1"/>
<line x1="366.8" y1="264.50" x2="369.5" y2="264.50" stroke="#1e1e1e" stroke-width="0.8"/>
<text x="362.40" y="266.86" font-size="6.6" text-anchor="end" fill="#2a2a2a" font-weight="normal" >120</text>
<line x1="366.8" y1="281.90" x2="369.5" y2="281.90" stroke="#1e1e1e" stroke-width="0.8"/>
<text x="362.40" y="284.26" font-size="6.6" text-anchor="end" fill="#2a2a2a" font-weight="normal" >100</text>
<line x1="366.8" y1="299.30" x2="369.5" y2="299.30" stroke="#1e1e1e" stroke-width="0.8"/>
<text x="362.40" y="301.66" font-size="6.6" text-anchor="end" fill="#2a2a2a" font-weight="normal" >80</text>
<line x1="366.8" y1="316.70" x2="369.5" y2="316.70" stroke="#1e1e1e" stroke-width="0.8"/>
<text x="362.40" y="319.06" font-size="6.6" text-anchor="end" fill="#2a2a2a" font-weight="normal" >60</text>
<line x1="366.8" y1="334.10" x2="369.5" y2="334.10" stroke="#1e1e1e" stroke-width="0.8"/>
<text x="362.40" y="336.46" font-size="6.6" text-anchor="end" fill="#2a2a2a" font-weight="normal" >40</text>
<line x1="366.8" y1="351.50" x2="369.5" y2="351.50" stroke="#1e1e1e" stroke-width="0.8"/>
<text x="362.40" y="353.86" font-size="6.6" text-anchor="end" fill="#2a2a2a" font-weight="normal" >20</text>
<line x1="366.8" y1="368.90" x2="369.5" y2="368.90" stroke="#1e1e1e" stroke-width="0.8"/>
<text x="362.40" y="371.26" font-size="6.6" text-anchor="end" fill="#2a2a2a" font-weight="normal" >0</text>
<rect x="372.90" y="265.50" width="7.40" height="104.00" fill="#0d4b86"/>
<line x1="376.50" y1="265.50" x2="376.50" y2="255.50" stroke="#2a2a2a" stroke-width="0.95"/>
<line x1="374.80" y1="255.50" x2="378.40" y2="255.50" stroke="#2a2a2a" stroke-width="1.3"/>
<rect x="384.80" y="294.50" width="7.40" height="75.00" fill="#c2002a"/>
<line x1="388.50" y1="294.50" x2="388.50" y2="286.75" stroke="#2a2a2a" stroke-width="0.95"/>
<line x1="386.70" y1="286.75" x2="390.30" y2="286.75" stroke="#2a2a2a" stroke-width="1.3"/>
<circle cx="388.50" cy="283.45" r="0.95" fill="#222"/>
<text class="xl" transform="translate(378.80,375.30) rotate(-45)" x="0" y="0" font-size="6.9" text-anchor="end" fill="#3c3c3c">Control</text>
<text class="xl" transform="translate(390.70,375.30) rotate(-45)" x="0" y="0" font-size="6.9" text-anchor="end" fill="#3c3c3c">WQ-2101</text>
<text transform="translate(347.02,310.60) rotate(-90)" x="0" y="0" font-size="7.0" text-anchor="middle" fill="#2a2a2a" textLength="41" lengthAdjust="spacingAndGlyphs">DPC coefficient</text>
<text x="383.00" y="247.80" font-size="6.6" text-anchor="middle" fill="#2a2a2a" font-weight="normal" >DPCs</text>
<text x="401.8" y="239.2" font-size="11.3" font-weight="bold" fill="#111">G</text>
<line x1="434.5" y1="251.5" x2="434.5" y2="370.0" stroke="#1e1e1e" stroke-width="1.1"/>
<line x1="433.95" y1="369.5" x2="461" y2="369.5" stroke="#1e1e1e" stroke-width="1.1"/>
<line x1="431.8" y1="257.50" x2="434.5" y2="257.50" stroke="#1e1e1e" stroke-width="0.8"/>
<text x="428.80" y="259.86" font-size="6.6" text-anchor="end" fill="#2a2a2a" font-weight="normal" >2000</text>
<line x1="431.8" y1="285.40" x2="434.5" y2="285.40" stroke="#1e1e1e" stroke-width="0.8"/>
<text x="428.80" y="287.76" font-size="6.6" text-anchor="end" fill="#2a2a2a" font-weight="normal" >1500</text>
<line x1="431.8" y1="313.30" x2="434.5" y2="313.30" stroke="#1e1e1e" stroke-width="0.8"/>
<text x="428.80" y="315.66" font-size="6.6" text-anchor="end" fill="#2a2a2a" font-weight="normal" >1000</text>
<line x1="431.8" y1="341.20" x2="434.5" y2="341.20" stroke="#1e1e1e" stroke-width="0.8"/>
<text x="428.80" y="343.56" font-size="6.6" text-anchor="end" fill="#2a2a2a" font-weight="normal" >500</text>
<line x1="431.8" y1="369.10" x2="434.5" y2="369.10" stroke="#1e1e1e" stroke-width="0.8"/>
<text x="428.80" y="371.46" font-size="6.6" text-anchor="end" fill="#2a2a2a" font-weight="normal" >0</text>
<rect x="438.55" y="260.00" width="7.40" height="109.50" fill="#0d4b86"/>
<line x1="442.50" y1="260.00" x2="442.50" y2="254.00" stroke="#2a2a2a" stroke-width="0.95"/>
<line x1="440.45" y1="254.00" x2="444.05" y2="254.00" stroke="#2a2a2a" stroke-width="1.3"/>
<rect x="450.55" y="285.00" width="7.40" height="84.50" fill="#c2002a"/>
<line x1="454.50" y1="285.00" x2="454.50" y2="281.25" stroke="#2a2a2a" stroke-width="0.95"/>
<line x1="452.45" y1="281.25" x2="456.05" y2="281.25" stroke="#2a2a2a" stroke-width="1.3"/>
<circle cx="454.25" cy="277.95" r="0.95" fill="#222"/>
<text class="xl" transform="translate(444.45,375.30) rotate(-45)" x="0" y="0" font-size="6.9" text-anchor="end" fill="#3c3c3c">Control</text>
<text class="xl" transform="translate(456.45,375.30) rotate(-45)" x="0" y="0" font-size="6.9" text-anchor="end" fill="#3c3c3c">SHIN1</text>
<text transform="translate(407.72,309.10) rotate(-90)" x="0" y="0" font-size="7.0" text-anchor="middle" fill="#2a2a2a" textLength="20.3" lengthAdjust="spacingAndGlyphs">FA (nM)</text>
<text x="447.50" y="247.80" font-size="6.6" text-anchor="middle" fill="#2a2a2a" font-weight="normal" >FA</text>
<line x1="493.5" y1="251.5" x2="493.5" y2="370.0" stroke="#1e1e1e" stroke-width="1.1"/>
<line x1="492.95" y1="369.5" x2="520" y2="369.5" stroke="#1e1e1e" stroke-width="1.1"/>
<line x1="490.8" y1="256.60" x2="493.5" y2="256.60" stroke="#1e1e1e" stroke-width="0.8"/>
<text x="486.80" y="258.96" font-size="6.6" text-anchor="end" fill="#2a2a2a" font-weight="normal" >120</text>
<line x1="490.8" y1="275.45" x2="493.5" y2="275.45" stroke="#1e1e1e" stroke-width="0.8"/>
<text x="486.80" y="277.81" font-size="6.6" text-anchor="end" fill="#2a2a2a" font-weight="normal" >100</text>
<line x1="490.8" y1="294.30" x2="493.5" y2="294.30" stroke="#1e1e1e" stroke-width="0.8"/>
<text x="486.80" y="296.66" font-size="6.6" text-anchor="end" fill="#2a2a2a" font-weight="normal" >80</text>
<line x1="490.8" y1="313.15" x2="493.5" y2="313.15" stroke="#1e1e1e" stroke-width="0.8"/>
<text x="486.80" y="315.51" font-size="6.6" text-anchor="end" fill="#2a2a2a" font-weight="normal" >60</text>
<line x1="490.8" y1="332.00" x2="493.5" y2="332.00" stroke="#1e1e1e" stroke-width="0.8"/>
<text x="486.80" y="334.36" font-size="6.6" text-anchor="end" fill="#2a2a2a" font-weight="normal" >40</text>
<line x1="490.8" y1="350.85" x2="493.5" y2="350.85" stroke="#1e1e1e" stroke-width="0.8"/>
<text x="486.80" y="353.21" font-size="6.6" text-anchor="end" fill="#2a2a2a" font-weight="normal" >20</text>
<line x1="490.8" y1="369.70" x2="493.5" y2="369.70" stroke="#1e1e1e" stroke-width="0.8"/>
<text x="486.80" y="372.06" font-size="6.6" text-anchor="end" fill="#2a2a2a" font-weight="normal" >0</text>
<rect x="497.40" y="263.50" width="7.40" height="106.00" fill="#0d4b86"/>
<line x1="501.50" y1="263.50" x2="501.50" y2="253.50" stroke="#2a2a2a" stroke-width="0.95"/>
<line x1="499.30" y1="253.50" x2="502.90" y2="253.50" stroke="#2a2a2a" stroke-width="1.3"/>
<rect x="509.30" y="299.60" width="7.40" height="69.90" fill="#c2002a"/>
<line x1="513.50" y1="299.60" x2="513.50" y2="292.70" stroke="#2a2a2a" stroke-width="0.95"/>
<line x1="511.20" y1="292.70" x2="514.80" y2="292.70" stroke="#2a2a2a" stroke-width="1.3"/>
<circle cx="513.00" cy="289.40" r="0.95" fill="#222"/>
<text class="xl" transform="translate(503.30,375.30) rotate(-45)" x="0" y="0" font-size="6.9" text-anchor="end" fill="#3c3c3c">Control</text>
<text class="xl" transform="translate(515.20,375.30) rotate(-45)" x="0" y="0" font-size="6.9" text-anchor="end" fill="#3c3c3c">SHIN1</text>
<text transform="translate(471.32,310.60) rotate(-90)" x="0" y="0" font-size="7.0" text-anchor="middle" fill="#2a2a2a" textLength="41" lengthAdjust="spacingAndGlyphs">DPC coefficient</text>
<text x="506.90" y="247.80" font-size="6.6" text-anchor="middle" fill="#2a2a2a" font-weight="normal" >DPCs</text>
<text x="4.9" y="460.2" font-size="14.5" font-weight="bold" fill="#111">H</text>
<line x1="46.5" y1="473.2" x2="46.5" y2="650.0" stroke="#1e1e1e" stroke-width="1.1"/>
<line x1="45.95" y1="649.5" x2="118" y2="649.5" stroke="#1e1e1e" stroke-width="1.1"/>
<line x1="43.8" y1="476.50" x2="46.5" y2="476.50" stroke="#1e1e1e" stroke-width="0.8"/>
<text x="40.40" y="478.93" font-size="6.8" text-anchor="end" fill="#2a2a2a" font-weight="normal" >800</text>
<line x1="43.8" y1="519.85" x2="46.5" y2="519.85" stroke="#1e1e1e" stroke-width="0.8"/>
<text x="40.40" y="522.28" font-size="6.8" text-anchor="end" fill="#2a2a2a" font-weight="normal" >600</text>
<line x1="43.8" y1="563.20" x2="46.5" y2="563.20" stroke="#1e1e1e" stroke-width="0.8"/>
<text x="40.40" y="565.63" font-size="6.8" text-anchor="end" fill="#2a2a2a" font-weight="normal" >400</text>
<line x1="43.8" y1="606.55" x2="46.5" y2="606.55" stroke="#1e1e1e" stroke-width="0.8"/>
<text x="40.40" y="608.98" font-size="6.8" text-anchor="end" fill="#2a2a2a" font-weight="normal" >200</text>
<line x1="43.8" y1="649.90" x2="46.5" y2="649.90" stroke="#1e1e1e" stroke-width="0.8"/>
<text x="40.40" y="652.33" font-size="6.8" text-anchor="end" fill="#2a2a2a" font-weight="normal" >0</text>
<rect x="50.55" y="503.10" width="11.00" height="146.40" fill="#33a6e0"/>
<line x1="56.50" y1="503.10" x2="56.50" y2="494.60" stroke="#4d94bb" stroke-width="0.8"/>
<line x1="53.05" y1="494.60" x2="59.05" y2="494.60" stroke="#4d94bb" stroke-width="1.0"/>
<rect x="63.90" y="523.20" width="11.00" height="126.30" fill="#33a6e0"/>
<line x1="69.50" y1="523.20" x2="69.50" y2="507.40" stroke="#4d94bb" stroke-width="0.8"/>
<line x1="66.40" y1="507.40" x2="72.40" y2="507.40" stroke="#4d94bb" stroke-width="1.0"/>
<circle cx="69.40" cy="504.10" r="0.95" fill="#222"/>
<rect x="90.50" y="507.00" width="11.00" height="142.50" fill="#f28c00"/>
<line x1="96.50" y1="507.00" x2="96.50" y2="502.50" stroke="#e39a35" stroke-width="0.8"/>
<line x1="93.00" y1="502.50" x2="99.00" y2="502.50" stroke="#e39a35" stroke-width="1.0"/>
<rect x="103.50" y="525.00" width="11.00" height="124.50" fill="#f28c00"/>
<line x1="109.50" y1="525.00" x2="109.50" y2="521.50" stroke="#e39a35" stroke-width="0.8"/>
<line x1="106.00" y1="521.50" x2="112.00" y2="521.50" stroke="#e39a35" stroke-width="1.0"/>
<circle cx="109.00" cy="518.20" r="0.95" fill="#222"/>
<text class="xl" transform="translate(58.05,654.70) rotate(-45)" x="0" y="0" font-size="6.6" text-anchor="end" fill="#3c3c3c">High GSG</text>
<text class="xl" transform="translate(71.40,654.70) rotate(-45)" x="0" y="0" font-size="6.6" text-anchor="end" fill="#3c3c3c">No GSG</text>
<text class="xl" transform="translate(98.00,654.70) rotate(-45)" x="0" y="0" font-size="6.6" text-anchor="end" fill="#3c3c3c">High GSG</text>
<text class="xl" transform="translate(111.00,654.70) rotate(-45)" x="0" y="0" font-size="6.6" text-anchor="end" fill="#3c3c3c">No GSG</text>
<text transform="translate(21.74,561.30) rotate(-90)" x="0" y="0" font-size="7.6" text-anchor="middle" fill="#2a2a2a" textLength="23.5" lengthAdjust="spacingAndGlyphs">FA (nM)</text>
<text x="82.60" y="467.60" font-size="6.2" text-anchor="middle" fill="#2a2a2a" font-weight="normal" >FA</text>
<line x1="160.5" y1="473.0" x2="160.5" y2="650.0" stroke="#1e1e1e" stroke-width="1.1"/>
<line x1="159.95" y1="649.5" x2="232" y2="649.5" stroke="#1e1e1e" stroke-width="1.1"/>
<line x1="157.8" y1="476.25" x2="160.5" y2="476.25" stroke="#1e1e1e" stroke-width="0.8"/>
<text x="154.40" y="478.68" font-size="6.8" text-anchor="end" fill="#2a2a2a" font-weight="normal" >60</text>
<line x1="157.8" y1="505.15" x2="160.5" y2="505.15" stroke="#1e1e1e" stroke-width="0.8"/>
<text x="154.40" y="507.58" font-size="6.8" text-anchor="end" fill="#2a2a2a" font-weight="normal" >50</text>
<line x1="157.8" y1="534.05" x2="160.5" y2="534.05" stroke="#1e1e1e" stroke-width="0.8"/>
<text x="154.40" y="536.48" font-size="6.8" text-anchor="end" fill="#2a2a2a" font-weight="normal" >40</text>
<line x1="157.8" y1="562.95" x2="160.5" y2="562.95" stroke="#1e1e1e" stroke-width="0.8"/>
<text x="154.40" y="565.38" font-size="6.8" text-anchor="end" fill="#2a2a2a" font-weight="normal" >30</text>
<line x1="157.8" y1="591.85" x2="160.5" y2="591.85" stroke="#1e1e1e" stroke-width="0.8"/>
<text x="154.40" y="594.28" font-size="6.8" text-anchor="end" fill="#2a2a2a" font-weight="normal" >20</text>
<line x1="157.8" y1="620.75" x2="160.5" y2="620.75" stroke="#1e1e1e" stroke-width="0.8"/>
<text x="154.40" y="623.18" font-size="6.8" text-anchor="end" fill="#2a2a2a" font-weight="normal" >10</text>
<line x1="157.8" y1="649.65" x2="160.5" y2="649.65" stroke="#1e1e1e" stroke-width="0.8"/>
<text x="154.40" y="652.08" font-size="6.8" text-anchor="end" fill="#2a2a2a" font-weight="normal" >0</text>
<rect x="164.90" y="539.25" width="11.00" height="110.25" fill="#33a6e0"/>
<line x1="170.50" y1="539.25" x2="170.50" y2="524.50" stroke="#4d94bb" stroke-width="0.8"/>
<line x1="167.40" y1="524.50" x2="173.40" y2="524.50" stroke="#4d94bb" stroke-width="1.0"/>
<rect x="177.90" y="540.00" width="11.00" height="109.50" fill="#33a6e0"/>
<line x1="183.50" y1="540.00" x2="183.50" y2="526.25" stroke="#4d94bb" stroke-width="0.8"/>
<line x1="180.40" y1="526.25" x2="186.40" y2="526.25" stroke="#4d94bb" stroke-width="1.0"/>
<rect x="203.60" y="496.25" width="11.00" height="153.25" fill="#f28c00"/>
<line x1="209.50" y1="496.25" x2="209.50" y2="490.00" stroke="#e39a35" stroke-width="0.8"/>
<line x1="206.10" y1="490.00" x2="212.10" y2="490.00" stroke="#e39a35" stroke-width="1.0"/>
<rect x="216.75" y="535.00" width="11.00" height="114.50" fill="#f28c00"/>
<line x1="222.50" y1="535.00" x2="222.50" y2="520.75" stroke="#e39a35" stroke-width="0.8"/>
<line x1="219.25" y1="520.75" x2="225.25" y2="520.75" stroke="#e39a35" stroke-width="1.0"/>
<circle cx="222.25" cy="517.45" r="0.95" fill="#222"/>
<text class="xl" transform="translate(172.40,654.70) rotate(-45)" x="0" y="0" font-size="6.6" text-anchor="end" fill="#3c3c3c">High GSG</text>
<text class="xl" transform="translate(185.40,654.70) rotate(-45)" x="0" y="0" font-size="6.6" text-anchor="end" fill="#3c3c3c">No GSG</text>
<text class="xl" transform="translate(211.10,654.70) rotate(-45)" x="0" y="0" font-size="6.6" text-anchor="end" fill="#3c3c3c">High GSG</text>
<text class="xl" transform="translate(224.25,654.70) rotate(-45)" x="0" y="0" font-size="6.6" text-anchor="end" fill="#3c3c3c">No GSG</text>
<text transform="translate(141.44,561.00) rotate(-90)" x="0" y="0" font-size="7.6" text-anchor="middle" fill="#2a2a2a" textLength="46" lengthAdjust="spacingAndGlyphs">DPC coefficient</text>
<text x="197.00" y="467.30" font-size="6.3" text-anchor="middle" fill="#2a2a2a" font-weight="normal" >DPCs</text>
<line x1="296.5" y1="472.5" x2="296.5" y2="650.0" stroke="#1e1e1e" stroke-width="1.1"/>
<line x1="295.95" y1="649.5" x2="352.5" y2="649.5" stroke="#1e1e1e" stroke-width="1.1"/>
<line x1="294.3" y1="476.5" x2="296.5" y2="476.5" stroke="#1e1e1e" stroke-width="0.8"/>
<text x="290.30" y="478.80" font-size="6.5" text-anchor="end" fill="#2a2a2a" font-weight="normal" >120&#215;10<tspan font-size="3.6" dy="-2.2">3</tspan></text>
<line x1="294.3" y1="505.3" x2="296.5" y2="505.3" stroke="#1e1e1e" stroke-width="0.8"/>
<text x="290.30" y="507.60" font-size="6.5" text-anchor="end" fill="#2a2a2a" font-weight="normal" >100&#215;10<tspan font-size="3.6" dy="-2.2">3</tspan></text>
<line x1="294.3" y1="534.1" x2="296.5" y2="534.1" stroke="#1e1e1e" stroke-width="0.8"/>
<text x="290.30" y="536.40" font-size="6.5" text-anchor="end" fill="#2a2a2a" font-weight="normal" >80&#215;10<tspan font-size="3.6" dy="-2.2">3</tspan></text>
<line x1="294.3" y1="562.9" x2="296.5" y2="562.9" stroke="#1e1e1e" stroke-width="0.8"/>
<text x="290.30" y="565.20" font-size="6.5" text-anchor="end" fill="#2a2a2a" font-weight="normal" >60&#215;10<tspan font-size="3.6" dy="-2.2">3</tspan></text>
<line x1="294.3" y1="591.7" x2="296.5" y2="591.7" stroke="#1e1e1e" stroke-width="0.8"/>
<text x="290.30" y="594.00" font-size="6.5" text-anchor="end" fill="#2a2a2a" font-weight="normal" >40&#215;10<tspan font-size="3.6" dy="-2.2">3</tspan></text>
<line x1="294.3" y1="620.5" x2="296.5" y2="620.5" stroke="#1e1e1e" stroke-width="0.8"/>
<text x="290.30" y="622.80" font-size="6.5" text-anchor="end" fill="#2a2a2a" font-weight="normal" >20&#215;10<tspan font-size="3.6" dy="-2.2">3</tspan></text>
<line x1="294.3" y1="649.3" x2="296.5" y2="649.3" stroke="#1e1e1e" stroke-width="0.8"/>
<text x="290.30" y="651.60" font-size="6.5" text-anchor="end" fill="#2a2a2a" font-weight="normal" >0</text>
<line x1="296.5" y1="649.3" x2="296.5" y2="652.3" stroke="#1e1e1e" stroke-width="1.0"/>
<text x="296.50" y="661.00" font-size="6.4" text-anchor="middle" fill="#2a2a2a" font-weight="normal" >0</text>
<line x1="331.25" y1="649.3" x2="331.25" y2="652.3" stroke="#1e1e1e" stroke-width="1.0"/>
<text x="331.25" y="661.00" font-size="6.4" text-anchor="middle" fill="#2a2a2a" font-weight="normal" >6</text>
<line x1="349" y1="649.3" x2="349" y2="652.3" stroke="#1e1e1e" stroke-width="1.0"/>
<text x="349.00" y="661.00" font-size="6.4" text-anchor="middle" fill="#2a2a2a" font-weight="normal" >9</text>
<text x="324.90" y="673.30" font-size="7.8" text-anchor="middle" fill="#2a2a2a" font-weight="normal" class="big" textLength="15.5" lengthAdjust="spacingAndGlyphs">Days</text>
<text x="324.60" y="469.50" font-size="6.8" text-anchor="middle" fill="#2a2a2a" font-weight="normal" >Proliferation</text>
<text x="324.60" y="477.90" font-size="6.6" text-anchor="middle" fill="#2a2a2a" font-weight="normal" >High GSG</text>
<text class="big" transform="translate(260.90,561.50) rotate(-90)" x="0" y="0" font-size="8.6" text-anchor="middle" fill="#2a2a2a" textLength="38" lengthAdjust="spacingAndGlyphs">Cell number</text>
<polyline points="296.5,634.75 331.25,527.5 349,503.25" fill="none" stroke="#33a6e0" stroke-width="0.9"/>
<line x1="349.50" y1="514.25" x2="349.50" y2="492.50" stroke="#33a6e0" stroke-width="0.95"/>
<line x1="346.50" y1="492.50" x2="351.50" y2="492.50" stroke="#33a6e0" stroke-width="1.3"/>
<line x1="346.50" y1="514.25" x2="351.50" y2="514.25" stroke="#33a6e0" stroke-width="1.3"/>
<circle cx="331.25" cy="527.5" r="3.9" fill="#33a6e0"/>
<circle cx="349" cy="503.25" r="3.9" fill="#33a6e0"/>
<polyline points="296.5,634.75 331.25,557.5 349,573.75" fill="none" stroke="#f28c00" stroke-width="1.15"/>
<line x1="331.50" y1="566.00" x2="331.50" y2="550.00" stroke="#f28c00" stroke-width="0.95"/>
<line x1="328.75" y1="550.00" x2="333.75" y2="550.00" stroke="#f28c00" stroke-width="1.3"/>
<line x1="328.75" y1="566.00" x2="333.75" y2="566.00" stroke="#f28c00" stroke-width="1.3"/>
<line x1="349.50" y1="579.25" x2="349.50" y2="568.00" stroke="#f28c00" stroke-width="0.95"/>
<line x1="346.50" y1="568.00" x2="351.50" y2="568.00" stroke="#f28c00" stroke-width="1.3"/>
<line x1="346.50" y1="579.25" x2="351.50" y2="579.25" stroke="#f28c00" stroke-width="1.3"/>
<circle cx="296.5" cy="634.75" r="3.9" fill="#f28c00"/>
<circle cx="331.25" cy="557.5" r="3.9" fill="#f28c00"/>
<circle cx="349" cy="573.75" r="3.9" fill="#f28c00"/>
<line x1="316.3" y1="620" x2="330" y2="620" stroke="#33a6e0" stroke-width="0.8"/>
<circle cx="323" cy="620" r="3.9" fill="#33a6e0"/>
<line x1="316.3" y1="636" x2="330" y2="636" stroke="#f28c00" stroke-width="0.8"/>
<circle cx="323" cy="636" r="3.9" fill="#f28c00"/>
<text x="334.60" y="622.20" font-size="6.0" text-anchor="start" fill="#444" font-weight="bold" font-style="italic">Polq<tspan font-size="4.2" dy="-2.4" font-weight="normal">+/+</tspan></text>
<text x="334.60" y="638.20" font-size="6.0" text-anchor="start" fill="#444" font-weight="bold" font-style="italic">Polq<tspan font-size="4.2" dy="-2.4" font-weight="normal">-/-</tspan></text>
<text x="376" y="460" font-size="14.5" font-weight="bold" fill="#111">I</text>
<line x1="410.5" y1="475" x2="410.5" y2="650.0" stroke="#1e1e1e" stroke-width="1.1"/>
<line x1="409.95" y1="649.5" x2="481.5" y2="649.5" stroke="#1e1e1e" stroke-width="1.1"/>
<line x1="408.6" y1="483.25" x2="410.8" y2="483.25" stroke="#1e1e1e" stroke-width="0.8"/>
<text x="403.90" y="485.55" font-size="6.4" text-anchor="end" fill="#2a2a2a" font-weight="normal" >100</text>
<line x1="408.6" y1="516.50" x2="410.8" y2="516.50" stroke="#1e1e1e" stroke-width="0.8"/>
<text x="403.90" y="518.80" font-size="6.4" text-anchor="end" fill="#2a2a2a" font-weight="normal" >80</text>
<line x1="408.6" y1="549.75" x2="410.8" y2="549.75" stroke="#1e1e1e" stroke-width="0.8"/>
<text x="403.90" y="552.05" font-size="6.4" text-anchor="end" fill="#2a2a2a" font-weight="normal" >60</text>
<line x1="408.6" y1="583.00" x2="410.8" y2="583.00" stroke="#1e1e1e" stroke-width="0.8"/>
<text x="403.90" y="585.30" font-size="6.4" text-anchor="end" fill="#2a2a2a" font-weight="normal" >40</text>
<line x1="408.6" y1="616.25" x2="410.8" y2="616.25" stroke="#1e1e1e" stroke-width="0.8"/>
<text x="403.90" y="618.55" font-size="6.4" text-anchor="end" fill="#2a2a2a" font-weight="normal" >20</text>
<line x1="408.6" y1="649.50" x2="410.8" y2="649.50" stroke="#1e1e1e" stroke-width="0.8"/>
<text x="403.90" y="651.80" font-size="6.4" text-anchor="end" fill="#2a2a2a" font-weight="normal" >0</text>
<line x1="410.60" y1="649.5" x2="410.60" y2="651.7" stroke="#1e1e1e" stroke-width="0.8"/>
<text transform="translate(413.60,656.50) rotate(-45)" font-size="5.4" text-anchor="end" fill="#2a2a2a">0</text>
<line x1="414.89" y1="649.5" x2="414.89" y2="651.7" stroke="#1e1e1e" stroke-width="0.8"/>
<text transform="translate(417.89,656.50) rotate(-45)" font-size="5.4" text-anchor="end" fill="#2a2a2a">25</text>
<line x1="419.18" y1="649.5" x2="419.18" y2="651.7" stroke="#1e1e1e" stroke-width="0.8"/>
<text transform="translate(422.18,656.50) rotate(-45)" font-size="5.4" text-anchor="end" fill="#2a2a2a">50</text>
<line x1="427.76" y1="649.5" x2="427.76" y2="651.7" stroke="#1e1e1e" stroke-width="0.8"/>
<text transform="translate(430.76,656.50) rotate(-45)" font-size="5.4" text-anchor="end" fill="#2a2a2a">100</text>
<line x1="444.93" y1="649.5" x2="444.93" y2="651.7" stroke="#1e1e1e" stroke-width="0.8"/>
<text transform="translate(447.93,656.50) rotate(-45)" font-size="5.4" text-anchor="end" fill="#2a2a2a">200</text>
<line x1="479.25" y1="649.5" x2="479.25" y2="651.7" stroke="#1e1e1e" stroke-width="0.8"/>
<text transform="translate(482.25,656.50) rotate(-45)" font-size="5.4" text-anchor="end" fill="#2a2a2a">400</text>
<text x="446.30" y="675.40" font-size="7.8" text-anchor="middle" fill="#2a2a2a" font-weight="normal" class="big" textLength="59.7" lengthAdjust="spacingAndGlyphs">Formaldehyde (nM)</text>
<text class="big" transform="translate(388.02,564.50) rotate(-90)" x="0" y="0" font-size="8.4" text-anchor="middle" fill="#2a2a2a" textLength="32.8" lengthAdjust="spacingAndGlyphs">% colonies</text>
<polyline points="410.6,483.3 414.8,484.5 418.5,485.8 427.7,489.6 444.8,499.2 479.25,510.75" fill="none" stroke="#33a6e0" stroke-width="0.9"/>
<line x1="414.50" y1="493.00" x2="414.50" y2="475.80" stroke="#33a6e0" stroke-width="0.95"/>
<line x1="412.30" y1="475.80" x2="417.30" y2="475.80" stroke="#33a6e0" stroke-width="1.3"/>
<line x1="412.30" y1="493.00" x2="417.30" y2="493.00" stroke="#33a6e0" stroke-width="1.3"/>
<line x1="479.50" y1="522.00" x2="479.50" y2="500.00" stroke="#33a6e0" stroke-width="0.95"/>
<line x1="476.75" y1="500.00" x2="481.75" y2="500.00" stroke="#33a6e0" stroke-width="1.3"/>
<line x1="476.75" y1="522.00" x2="481.75" y2="522.00" stroke="#33a6e0" stroke-width="1.3"/>
<circle cx="410.6" cy="483.3" r="3.9" fill="#33a6e0"/>
<circle cx="414.8" cy="484.5" r="3.9" fill="#33a6e0"/>
<circle cx="418.5" cy="485.8" r="3.9" fill="#33a6e0"/>
<circle cx="427.7" cy="489.6" r="3.9" fill="#33a6e0"/>
<circle cx="444.8" cy="499.2" r="3.9" fill="#33a6e0"/>
<circle cx="479.25" cy="510.75" r="3.9" fill="#33a6e0"/>
<polyline points="410.6,483.3 414.8,500.2 418.7,519.8 427.5,552.5 444.5,591.75 479.25,624.25" fill="none" stroke="#f28c00" stroke-width="1.15"/>
<line x1="444.50" y1="600.80" x2="444.50" y2="582.50" stroke="#f28c00" stroke-width="0.95"/>
<line x1="441.90" y1="582.50" x2="447.10" y2="582.50" stroke="#f28c00" stroke-width="1.3"/>
<line x1="441.90" y1="600.80" x2="447.10" y2="600.80" stroke="#f28c00" stroke-width="1.3"/>
<circle cx="410.6" cy="483.3" r="3.9" fill="#f28c00"/>
<circle cx="414.8" cy="500.2" r="3.9" fill="#f28c00"/>
<circle cx="418.7" cy="519.8" r="3.9" fill="#f28c00"/>
<circle cx="427.5" cy="552.5" r="3.9" fill="#f28c00"/>
<circle cx="444.5" cy="591.75" r="3.9" fill="#f28c00"/>
<circle cx="479.25" cy="624.25" r="3.9" fill="#f28c00"/>
<line x1="416.3" y1="622.3" x2="432.5" y2="622.3" stroke="#33a6e0" stroke-width="0.8"/>
<circle cx="425" cy="622.3" r="3.9" fill="#33a6e0"/>
<line x1="416.3" y1="640" x2="432.5" y2="640" stroke="#f28c00" stroke-width="0.8"/>
<circle cx="425" cy="640" r="3.9" fill="#f28c00"/>
<text x="436.30" y="624.50" font-size="6.0" text-anchor="start" fill="#444" font-weight="bold" font-style="italic">Polq<tspan font-size="4.2" dy="-2.4" font-weight="normal">+/+</tspan></text>
<text x="436.30" y="642.20" font-size="6.0" text-anchor="start" fill="#444" font-weight="bold" font-style="italic">Polq<tspan font-size="4.2" dy="-2.4" font-weight="normal">-/-</tspan></text>
</svg>
</body></html>
